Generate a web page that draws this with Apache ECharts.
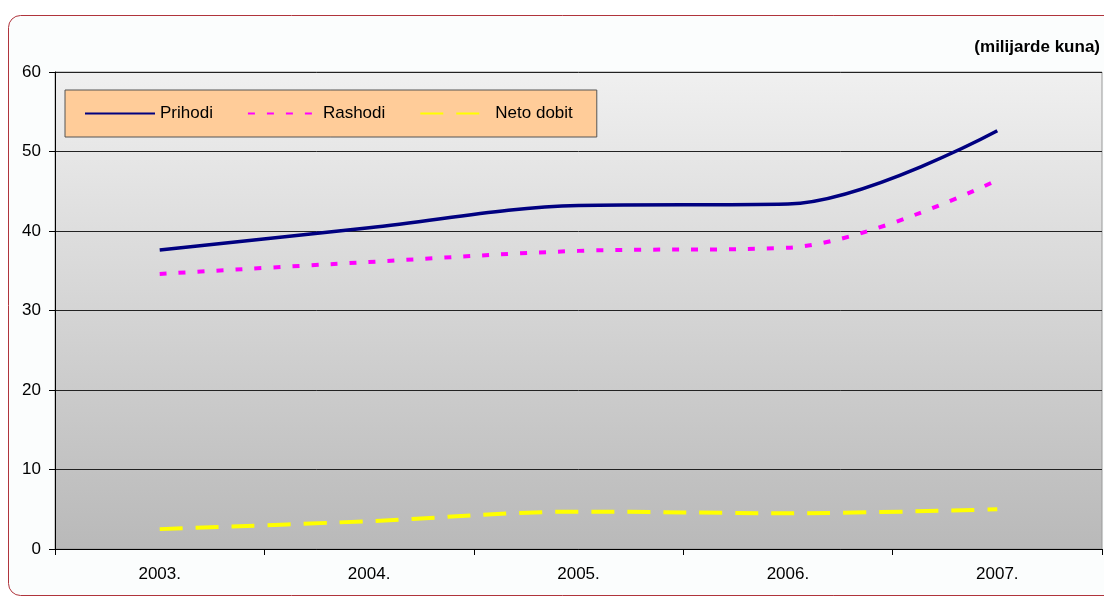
<!DOCTYPE html>
<html><head><meta charset="utf-8">
<script src="https://cdn.jsdelivr.net/npm/echarts@6/dist/echarts.min.js"></script>
<style>html,body{margin:0;padding:0;background:#fff}#c{width:1104px;height:599px}</style>
</head><body><div id="c"></div>
<script>
const categories = ['2003.', '2004.', '2005.', '2006.', '2007.'];
const prihodi = [37.6, 40.4, 43.2, 43.4, 52.6];
const rashodi = [34.6, 36.1, 37.5, 37.9, 46.4];
const netoDobit = [2.5, 3.5, 4.7, 4.5, 5.0];
const yTicks = [0, 10, 20, 30, 40, 50, 60];
const unitLabel = '(milijarde kuna)';

const chart = echarts.init(document.getElementById('c'));
const font = 'Liberation Sans, Arial, sans-serif';
chart.setOption({
  animation: false,
  textStyle: { fontFamily: font },
  graphic: [
    { type: 'rect', z: -10, shape: { x: 8.5, y: 15.5, width: 1120, height: 580, r: 12 },
      style: { fill: '#fbfdfd', stroke: '#b0343c', lineWidth: 1 } },
    { type: 'text', right: 4, top: 39, z: 10,
      style: { text: unitLabel, font: 'bold 17px ' + font, fill: '#000' } }
  ],
  grid: { left: 55, right: 2, top: 72, bottom: 50, show: true, borderColor: '#999', borderWidth: 1,
    backgroundColor: new echarts.graphic.LinearGradient(0, 0, 0, 1, [
      { offset: 0, color: '#f0f0f0' }, { offset: 1, color: '#b9b9b9' }]) },
  legend: {
    left: 65, top: 90, padding: [15, 24, 15, 19], itemWidth: 70, itemHeight: 18, itemGap: 34,
    backgroundColor: '#ffcc99', borderColor: '#555', borderWidth: 1,
    itemStyle: { opacity: 0 },
    textStyle: { fontSize: 17, color: '#000', fontFamily: font },
    data: ['Prihodi', 'Rashodi', 'Neto dobit']
  },
  xAxis: {
    type: 'category', data: categories, boundaryGap: true,
    axisLine: { lineStyle: { color: '#000', width: 1 } },
    axisTick: { show: true, length: 6, lineStyle: { color: '#000' } },
    axisLabel: { fontSize: 17, color: '#000', margin: 17, fontFamily: font },
    z: 5
  },
  yAxis: {
    type: 'value', min: yTicks[0], max: yTicks[yTicks.length - 1], interval: 10,
    axisLine: { show: true, lineStyle: { color: '#000' } },
    axisTick: { show: true, length: 6, lineStyle: { color: '#000' } },
    axisLabel: { fontSize: 17, color: '#000', margin: 14, fontFamily: font },
    splitLine: { lineStyle: { color: '#222', width: 1 } }
  },
  series: [
    { name: 'Prihodi', type: 'line', data: prihodi, smooth: 0.35, symbol: 'none',
      lineStyle: { color: '#000080', width: 3.5 }, itemStyle: { color: '#000080' } },
    { name: 'Rashodi', type: 'line', data: rashodi, smooth: 0.35, symbol: 'none',
      lineStyle: { color: '#ff00ff', width: 4, type: [7, 12] }, itemStyle: { color: '#ff00ff' } },
    { name: 'Neto dobit', type: 'line', data: netoDobit, smooth: 0.35, symbol: 'none',
      lineStyle: { color: '#ffff00', width: 4, type: [23, 13] }, itemStyle: { color: '#ffff00' } }
  ]
});
</script></body></html>
